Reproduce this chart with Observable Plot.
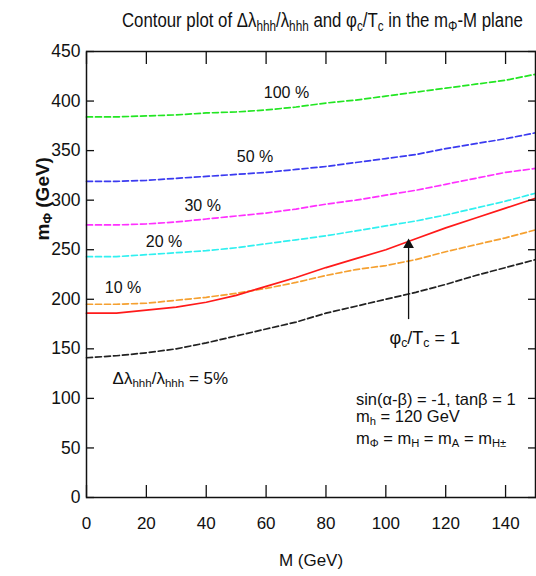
<!DOCTYPE html>
<html><head><meta charset="utf-8">
<script src="https://cdn.jsdelivr.net/npm/d3@7"></script>
<script src="https://cdn.jsdelivr.net/npm/@observablehq/plot@0.6"></script>
<style>
body{margin:0;background:#fff;font-family:"Liberation Sans",Arial,sans-serif;color:#111;}
#title{position:relative;height:40px;width:536px;}
#title span{position:absolute;left:86px;width:449px;top:9px;text-align:center;font-size:20px;white-space:nowrap;transform:scaleX(0.84);transform-origin:50% 50%;}
#title sub{font-size:70%;vertical-align:-4px;line-height:0;}
</style></head><body>
<div id="title"><span>Contour plot of Δλ<sub>hhh</sub>/λ<sub>hhh</sub> and φ<sub>c</sub>/T<sub>c</sub> in the m<sub>Φ</sub>-M plane</span></div>
<div id="chart"></div>
<script>
// ---- data ----
const M = [0,10,20,30,40,50,60,70,80,90,100,110,120,130,140,150];
const dl100 = [384,384,385,386,388,389,391,394,398,401,405,409,413,417,421,427];
const dl50  = [319,319,320,322,324,326,328,331,334,338,342,346,352,357,362,368];
const dl30  = [275,275,276,278,281,284,287,291,296,300,305,310,316,322,328,332];
const dl20  = [243,243,245,247,249,252,256,260,264,269,274,279,285,292,299,307];
const dl10  = [195,195,196,199,202,206,211,217,224,230,234,240,248,255,262,270];
const dl5   = [141,143,146,150,156,163,170,177,186,193,200,207,215,224,232,240];
const phiTc = [186,186,189,192,197,204,213,222,232,241,250,261,272,282,292,302];

const seriesNames = ["100 %","50 %","30 %","20 %","10 %","5 %"];
const seriesColors = ["#22e622","#3a3af0","#ff30ff","#30f0f0","#f5a030","#222222"];
const contourValues = [dl100, dl50, dl30, dl20, dl10, dl5];

const labelText = ["100 %","50 %","30 %","20 %","10 %"];
const labelM    = [66.8, 56.3, 38.8, 25.9, 12.2];
const labelY    = [408, 344, 294, 258, 211.5];

const xTicks = [0,20,40,60,80,100,120,140];
const yTicks = [0,50,100,150,200,250,300,350,400,450];

const arrowM = 107.6, arrowFrom = 180, arrowTo = 260;

// ---- tables ----
const contours = seriesNames.flatMap((s,i)=>M.map((m,j)=>({series:s, M:m, v:contourValues[i][j]})));
const phiLine = M.map((m,j)=>({M:m, v:phiTc[j]}));
const labels = labelText.map((t,i)=>({t, M:labelM[i], v:labelY[i]}));

const font = '"Liberation Sans",Arial,sans-serif';

const chart = Plot.plot({
  width:536, height:536,
  marginLeft:86, marginRight:1, marginTop:11, marginBottom:79,
  style:{fontFamily:font, fontSize:"17px", color:"#111", background:"white"},
  x:{domain:[0,150]},
  y:{domain:[0,450]},
  color:{domain:seriesNames, range:seriesColors},
  marks:[
    Plot.line(contours,{x:"M", y:"v", z:"series", stroke:"series", strokeWidth:1.7, strokeDasharray:"6,3"}),
    Plot.line(phiLine,{x:"M", y:"v", stroke:"#ff1a1a", strokeWidth:1.7}),
    Plot.link([0],{x1:()=>arrowM, x2:()=>arrowM, y1:()=>arrowFrom, y2:()=>arrowTo-6, stroke:"#111", strokeWidth:1.3}),
    Plot.dot([0],{x:()=>arrowM, y:()=>arrowTo-5, symbol:"triangle", r:4, fill:"#111", stroke:"none"}),
    Plot.text(labels,{x:"M", y:"v", text:"t", fontSize:16}),
    Plot.text(["Δλ_{hhh}/λ_{hhh} = 5%"],{x:()=>8.7, y:()=>119.6, textAnchor:"start", fontSize:17, className:"rich"}),
    Plot.text(["φ_{c}/T_{c} = 1"],{x:()=>113, y:()=>160.5, fontSize:18, className:"rich"}),
    Plot.text(["sin(α-β) = -1, tanβ = 1"],{x:()=>90, y:()=>99, textAnchor:"start", fontSize:16.5}),
    Plot.text(["m_{h} = 120 GeV"],{x:()=>90, y:()=>81.7, textAnchor:"start", fontSize:16.5, className:"rich"}),
    Plot.text(["m_{Φ} = m_{H} = m_{A} = m_{H±}"],{x:()=>90, y:()=>59.5, textAnchor:"start", fontSize:16.5, className:"rich"}),
    Plot.axisX({anchor:"bottom", ticks:xTicks, tickSize:-12, text:null, label:null, strokeWidth:1.3}),
    Plot.axisX({anchor:"top", ticks:xTicks, tickSize:-12, text:null, label:null, strokeWidth:1.3}),
    Plot.axisY({anchor:"left", ticks:yTicks, tickSize:-8, text:null, label:null, strokeWidth:1.3}),
    Plot.axisY({anchor:"right", ticks:yTicks, tickSize:-8, text:null, label:null, strokeWidth:1.3}),
    Plot.axisX({anchor:"bottom", ticks:xTicks, tickSize:0, tickPadding:19, label:null, fontSize:17}),
    Plot.axisY({anchor:"left", ticks:yTicks, tickSize:0, tickPadding:6, label:null, fontSize:17.5}),
    Plot.text(["M (GeV)"],{frameAnchor:"bottom", dy:68, fontSize:17}),
    Plot.text(["m_{Φ} (GeV)"],{frameAnchor:"top-left", dx:-51, dy:189, rotate:-90, fontSize:19, fontWeight:"bold", className:"rich"}),
    Plot.frame({stroke:"#111", strokeWidth:1.5})
  ]
});
document.getElementById("chart").appendChild(chart);

// turn _{...} markup into subscript tspans
const NS = "http://www.w3.org/2000/svg";
chart.querySelectorAll(".rich text").forEach(el=>{
  const s = el.textContent;
  const re = /_\{([^}]*)\}/g; const parts=[]; let last=0, m;
  while((m=re.exec(s))){ parts.push([s.slice(last,m.index),false]); parts.push([m[1],true]); last=re.lastIndex; }
  parts.push([s.slice(last),false]);
  el.textContent="";
  let cur=0; const shift=3;
  for(const [t,sub] of parts){
    if(!t) continue;
    const ts=document.createElementNS(NS,"tspan");
    const target = sub?shift:0;
    if(target!==cur){ ts.setAttribute("dy", target-cur); cur=target; }
    if(sub) ts.setAttribute("font-size","68%");
    ts.textContent=t; el.appendChild(ts);
  }
});
</script>
</body></html>
